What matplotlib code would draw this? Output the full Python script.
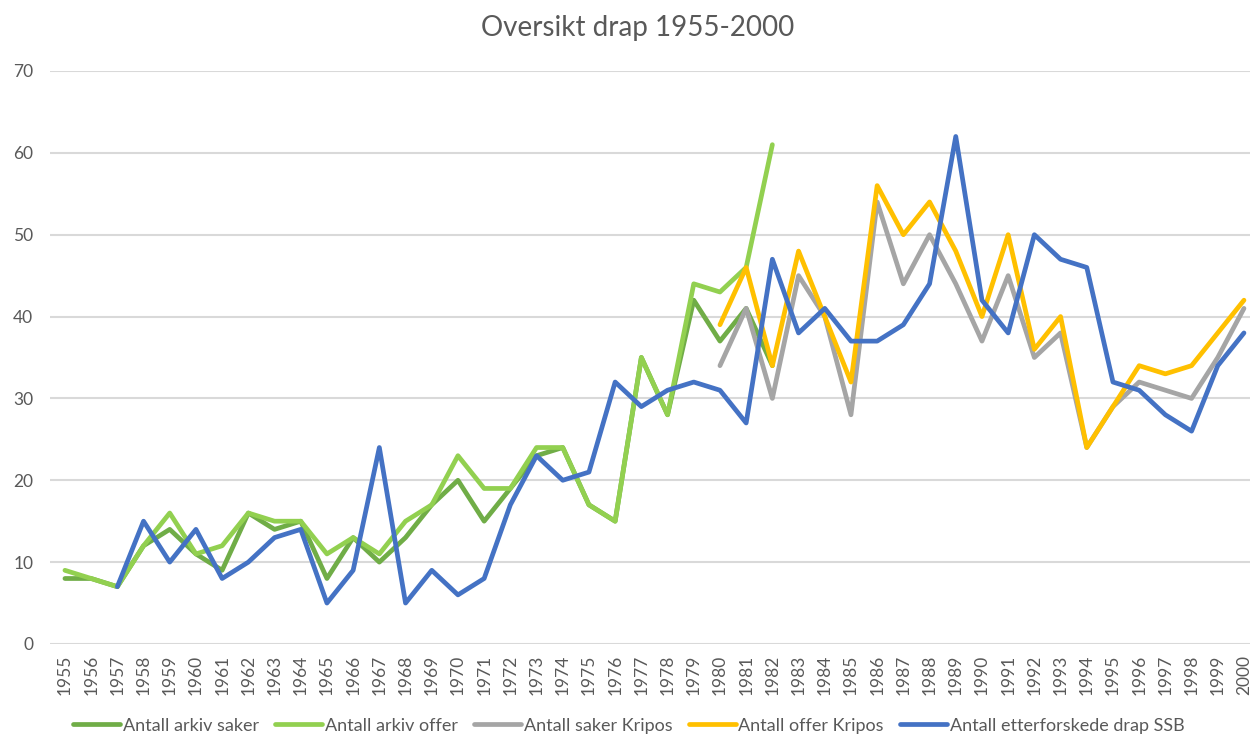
import matplotlib
matplotlib.use("Agg")
import matplotlib.pyplot as plt
import numpy as np

nan = np.nan
years = list(range(1955, 2001))

# Antall arkiv saker (1955-1982)
arkiv_saker = [8, 8, 7, 12, 14, 11, 9, 16, 14, 15, 8, 13, 10, 13, 17, 20, 15, 19, 23, 24,
               17, 15, 35, 28, 42, 37, 41, 34] + [nan] * 18
# Antall arkiv offer (1955-1982)
arkiv_offer = [9, 8, 7, 12, 16, 11, 12, 16, 15, 15, 11, 13, 11, 15, 17, 23, 19, 19, 24, 24,
               17, 15, 35, 28, 44, 43, 46, 61] + [nan] * 18
# Antall saker Kripos (1980-2000)
saker_kripos = [nan] * 25 + [34, 41, 30, 45, 40, 28, 54, 44, 50, 44, 37, 45, 35, 38, 24,
                             29, 32, 31, 30, 35, 41]
# Antall offer Kripos (1980-2000)
offer_kripos = [nan] * 25 + [39, 46, 34, 48, 40, 32, 56, 50, 54, 48, 40, 50, 36, 40, 24,
                             29, 34, 33, 34, 38, 42]
# Antall etterforskede drap SSB (1957-2000)
ssb = [nan, nan, 7, 15, 10, 14, 8, 10, 13, 14, 5, 9, 24, 5, 9, 6, 8, 17, 23, 20, 21, 32, 29,
       31, 32, 31, 27, 47, 38, 41, 37, 37, 39, 44, 62, 42, 38, 50, 47, 46, 32, 31, 28, 26, 34, 38]

series = [
    ("Antall arkiv saker", arkiv_saker, "#70AD47"),
    ("Antall arkiv offer", arkiv_offer, "#92D050"),
    ("Antall saker Kripos", saker_kripos, "#A5A5A5"),
    ("Antall offer Kripos", offer_kripos, "#FFC000"),
    ("Antall etterforskede drap SSB", ssb, "#4472C4"),
]

plt.rcParams['font.family'] = ['Lato', 'DejaVu Sans']

fig = plt.figure(figsize=(12.5, 7.38), dpi=100)
ax = fig.add_axes([0.04, 0.1274, 0.96, 0.7764])

for name, vals, col in series:
    ax.plot(years, vals, color=col, lw=3.4, label=name, solid_capstyle='round', solid_joinstyle='round')

ax.set_xlim(1954.43, 2000.23)
ax.set_ylim(0, 70)
ax.set_yticks(range(0, 71, 10))
ax.set_xticks(years)
ax.set_xticklabels([str(y) for y in years], rotation=90)
ax.tick_params(axis='both', length=0, colors='#595959', labelsize=12.5)
ax.tick_params(axis='y', pad=12)
ax.tick_params(axis='x', pad=8)
for s in ax.spines.values():
    s.set_visible(False)
ax.grid(axis='y', color='#D9D9D9', lw=1.5)
ax.set_axisbelow(True)

fig.suptitle("Oversikt drap 1955-2000", x=0.51, y=0.98, fontsize=20, color='#595959')

fig.legend(loc='lower center', bbox_to_anchor=(0.503, -0.016), ncol=5, frameon=False,
           fontsize=13, handlelength=2.6, columnspacing=0.9, handletextpad=0.15,
           labelcolor='#595959')

fig.savefig("out.png", dpi=100)
